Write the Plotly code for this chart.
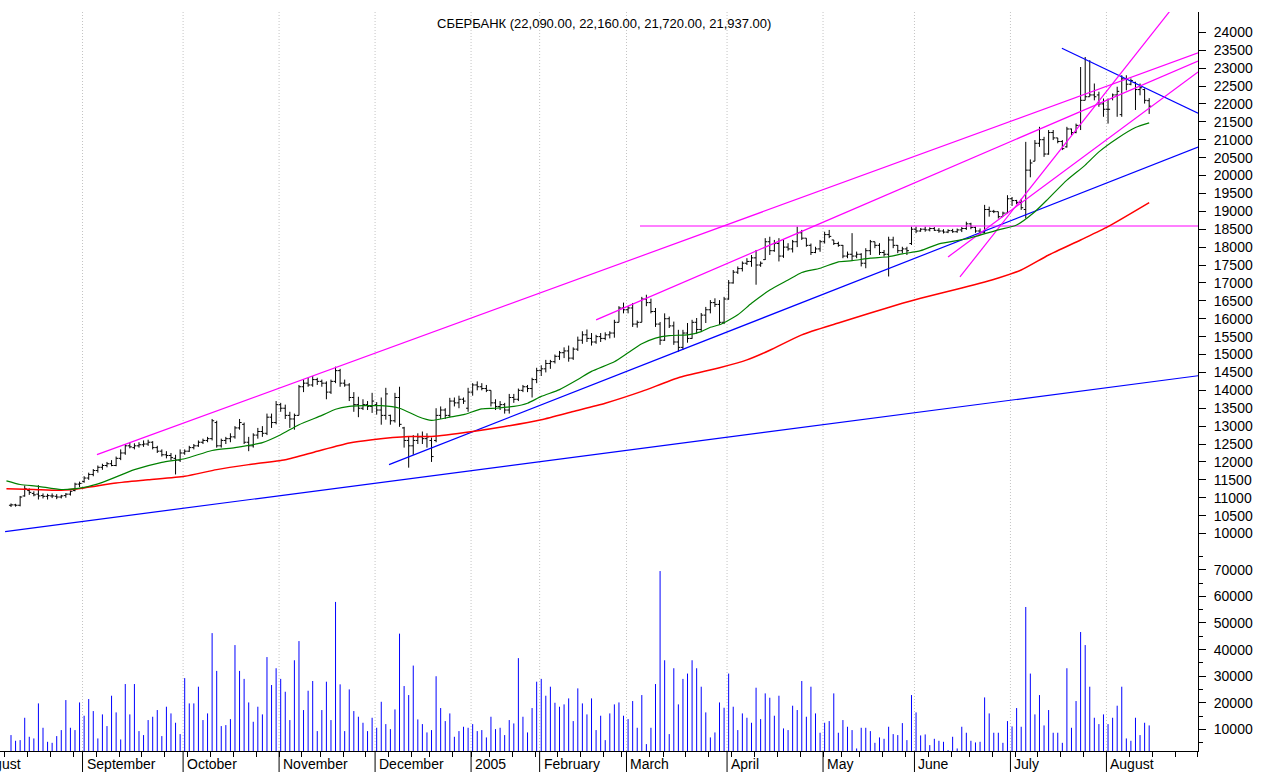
import numpy as np
import pandas as pd
import plotly.graph_objects as go

# ---------------- trading calendar (MICEX, Aug 2004 - Aug 2005) ----------------
holidays = ["2004-11-08", "2004-12-13", "2004-12-31", "2005-01-03", "2005-01-04",
            "2005-01-05", "2005-01-06", "2005-01-07", "2005-01-10", "2005-02-23",
            "2005-03-07", "2005-03-08", "2005-05-02", "2005-05-09", "2005-05-10",
            "2005-06-13"]
extra_sessions = ["2005-03-05", "2005-05-14"]
first_bar_date = "2004-08-10"
month_labels = ["August", "September", "October", "November", "December", "2005",
                "February", "March", "April", "May", "June", "July", "August"]

# ---------------- daily OHLC ----------------
open_ = [10790, 10800, 10790, 11050, 11200, 11120, 11100, 11060, 11040, 11050, 11040, 11020, 11060, 11100, 11200, 11380,
         11450, 11550, 11650, 11760, 11850, 11900, 11950, 11900, 12100, 12250, 12450, 12400, 12450, 12480, 12500, 12550,
         12400, 12300, 12200, 12180, 12100, 12050,
         12250, 12300, 12400, 12450, 12550, 12600, 12650, 13100, 12450, 12600, 12650, 12700, 12950, 13050, 12550, 12450,
         12750, 12850, 12800, 13250, 13100,
         13600, 13500, 13300, 13200, 13300, 14100, 14200, 14150, 14300, 14250, 14200, 13950, 14250, 14550, 14200, 14150,
         13800, 13600, 13500, 13600, 13550,
         13600, 13450, 13300, 13300, 13150, 13800, 12950, 12600, 12450, 12600, 12700, 12650, 12600, 12600, 13300, 13450,
         13300, 13700, 13650, 13750, 13500,
         13950, 14150, 14100, 14050, 14000, 13650, 13550, 13600, 13450, 13800, 13750, 14000, 14100, 14050, 14300,
         14550, 14600, 14750, 14800, 14950, 15050, 15100, 14900, 15150, 15400, 15550, 15450, 15350, 15500, 15450, 15550,
         15600, 15900, 16300,
         16250, 16300, 15850, 15900, 16550, 16450, 16200, 15850, 15400, 16000, 15800, 15350, 15200, 15600, 15450, 15900,
         15700, 16100, 16250, 16450, 16400, 15900,
         16550, 17000, 17300, 17400, 17550, 17600, 17700, 17500, 17650, 18150, 17900, 18100, 17750, 18000, 17950, 18150,
         18400, 18250, 18050, 17850, 17950,
         18150, 18350, 18200, 18100, 18050, 17750, 17800, 17750, 17800, 17550, 17900, 18150, 18050, 17850, 17800, 18200,
         18050, 17900, 17950, 18100,
         18500, 18450, 18500, 18480, 18520, 18470, 18450, 18420, 18460, 18430, 18480, 18520, 18650, 18550, 18450, 18400,
         19050, 19000, 18990, 18850, 18950,
         19350, 19300, 19250, 19050, 20150, 20400, 20900, 21000, 20600, 21200, 21050, 20950, 20800, 21300, 21200, 21400,
         22100, 22200, 22250, 22250, 22000,
         21850, 22150, 22250, 21700, 22700, 22550, 22600, 22400, 22400, 22090]
high = [10840, 10830, 11050, 11340, 11260, 11180, 11350, 11120, 11110, 11120, 11100, 11080, 11130, 11200, 11420, 11450,
        11600, 11700, 11800, 11900, 11950, 12000, 12050, 12150, 12350, 12500, 12550, 12520, 12550, 12600, 12620, 12580,
        12450, 12350, 12300, 12250, 12200, 12350,
        12350, 12450, 12500, 12600, 12650, 12700, 13200, 13150, 12650, 12700, 12800, 13000, 13200, 13100, 12700, 12800,
        12950, 13000, 13350, 13350, 13700,
        13650, 13600, 13400, 13350, 14150, 14300, 14350, 14400, 14350, 14300, 14250, 14300, 14660, 14600, 14300, 14200,
        13950, 13820, 13750, 13700, 13930,
        13670, 13800, 14070, 13320, 13930, 14100, 12980, 12700, 12750, 12800, 12850, 12800, 12680, 13500, 13550, 13500,
        13790, 13800, 13850, 13800, 14070,
        14200, 14250, 14200, 14150, 14000, 13750, 13700, 13650, 13900, 13900, 14050, 14150, 14150, 14350, 14630,
        14700, 14850, 14850, 15000, 15100, 15200, 15250, 15200, 15500, 15650, 15700, 15600, 15550, 15600, 15620, 15650,
        15970, 16350, 16450,
        16350, 16440, 15950, 16610, 16670, 16560, 16300, 15910, 16150, 16060, 15920, 15690, 15690, 15880, 15970, 16020,
        16160, 16330, 16520, 16570, 16520, 16610,
        17080, 17360, 17460, 17600, 17690, 17780, 17920, 17600, 18250, 18290, 18200, 18250, 18200, 18110, 18200, 18570,
        18480, 18250, 18100, 18010, 18200,
        18430, 18480, 18200, 18150, 18060, 17875, 18390, 17875, 17830, 17970, 18200, 18150, 18110, 17920, 18290, 18290,
        18060, 18010, 18010, 18570,
        18570, 18530, 18570, 18550, 18560, 18530, 18500, 18500, 18510, 18520, 18560, 18710, 18680, 18570, 18520, 19180,
        19130, 19040, 18990, 18990, 19450,
        19400, 19320, 19350, 20940, 20450, 20990, 21360, 21080, 21270, 21270, 21050, 20990, 21360, 21310, 21450, 23030,
        23310, 23220, 22570, 22340, 22150,
        22150, 22290, 22480, 22800, 22800, 22710, 22620, 22570, 22430, 22160]
low = [10740, 10750, 10760, 11030, 11080, 11040, 10950, 10980, 10950, 10990, 10960, 10980, 11000, 11060, 11180, 11300,
       11420, 11500, 11600, 11700, 11780, 11850, 11880, 11880, 12050, 12200, 12380, 12350, 12400, 12420, 12450, 12350,
       12250, 12150, 12100, 12050, 11650, 12000,
       12200, 12280, 12350, 12420, 12500, 12550, 12600, 12400, 12400, 12500, 12550, 12650, 12900, 12500, 12300, 12400,
       12650, 12700, 12750, 12950, 13050,
       13400, 13200, 12950, 12900, 13300, 13950, 14100, 14100, 14150, 14100, 13750, 13900, 14200, 14100, 14100, 13700,
       13400, 13250, 13450, 13450, 13370,
       13320, 13040, 13180, 13040, 13100, 12980, 12400, 11840, 12200, 12500, 12500, 12400, 12000, 12550, 13200, 13200,
       13250, 13550, 13500, 13620, 13400,
       13850, 14000, 14000, 13950, 13550, 13450, 13450, 13350, 13350, 13650, 13700, 13950, 13950, 13800, 14200,
       14400, 14500, 14600, 14750, 14850, 14900, 14800, 14850, 15100, 15300, 15350, 15250, 15300, 15350, 15400, 15450,
       15470, 15900, 16150,
       16150, 15770, 15750, 15900, 16350, 16150, 15770, 15270, 15380, 15740, 15270, 15080, 15130, 15330, 15440, 15580,
       15650, 15880, 16150, 16330, 15830, 15850,
       16530, 16980, 17250, 17320, 17500, 17450, 16950, 17450, 17640, 17780, 17870, 17600, 17700, 17900, 17850, 18000,
       18200, 18010, 17780, 17830, 17870,
       18100, 18250, 18060, 18010, 17690, 17690, 17640, 17690, 17460, 17410, 17780, 17970, 17780, 17735, 17180, 17970,
       17830, 17830, 17780, 18060,
       18390, 18430, 18430, 18440, 18450, 18400, 18380, 18390, 18400, 18400, 18420, 18480, 18500, 18400, 18340, 18390,
       18850, 18950, 18800, 18850, 18950,
       19150, 19200, 19040, 18800, 19950, 20400, 20800, 20520, 20580, 20990, 20900, 20710, 20780, 21130, 21180, 21270,
       22100, 22200, 22100, 21920, 21640,
       21450, 22100, 21640, 21640, 22380, 22520, 21830, 22240, 22010, 21720]
close_ = [10800, 10790, 11020, 11250, 11150, 11080, 11050, 11040, 11060, 11050, 11020, 11050, 11100, 11180, 11380, 11400,
          11550, 11650, 11760, 11850, 11900, 11950, 11900, 12100, 12250, 12450, 12420, 12450, 12480, 12500, 12550, 12400,
          12300, 12200, 12180, 12120, 12050, 12250,
          12300, 12400, 12450, 12550, 12600, 12650, 13150, 12450, 12600, 12650, 12700, 12950, 13100, 12550, 12450, 12750,
          12850, 12800, 13250, 13100, 13600,
          13500, 13300, 13200, 13300, 14100, 14200, 14150, 14300, 14250, 14200, 13950, 14250, 14550, 14200, 14150, 13800,
          13600, 13500, 13600, 13550, 13700,
          13450, 13300, 13900, 13150, 13800, 13050, 12600, 12450, 12600, 12700, 12650, 12700, 12150, 13300, 13450, 13300,
          13700, 13650, 13750, 13700, 13950,
          14150, 14100, 14050, 14000, 13650, 13550, 13600, 13450, 13800, 13750, 14000, 14100, 14050, 14300, 14550,
          14600, 14750, 14800, 14950, 15050, 15100, 14900, 15150, 15400, 15550, 15450, 15350, 15500, 15450, 15550, 15600,
          15900, 16300, 16250,
          16300, 15850, 15900, 16550, 16450, 16200, 15850, 15400, 16000, 15800, 15350, 15200, 15600, 15450, 15900, 15700,
          16100, 16250, 16450, 16400, 15900, 16550,
          17000, 17300, 17400, 17550, 17600, 17700, 17500, 17550, 18150, 17900, 18100, 17750, 18000, 17950, 18150, 18400,
          18250, 18050, 17850, 17950, 18150,
          18350, 18300, 18100, 18050, 17750, 17800, 17750, 17800, 17550, 17900, 18150, 18050, 17850, 17800, 18200, 18050,
          17900, 17950, 17900, 18500,
          18450, 18500, 18480, 18520, 18470, 18450, 18420, 18460, 18430, 18480, 18520, 18650, 18550, 18450, 18400, 19050,
          19000, 18990, 18850, 18950, 19350,
          19300, 19250, 19100, 20150, 20350, 20900, 21000, 20600, 21200, 21050, 20950, 20750, 21300, 21200, 21400, 22100,
          22200, 22250, 22200, 22000, 21850,
          21850, 22250, 22350, 22700, 22550, 22650, 22400, 22450, 22100, 21937]

# ---------------- daily volume ----------------
volume = [7900, 5760, 6010, 14400, 7270, 6640, 19800, 10650, 5380, 5000, 7520, 9780, 21050, 10650, 9780, 20160,
          15170, 21430, 16920, 6640, 15670, 11280, 22680, 16420, 6260, 27070, 15670, 27070, 9400, 7900, 13540, 14790,
          17300, 7520, 18550, 16040, 12530, 8270,
          29300, 19800, 19800, 26070, 13540, 16040, 46200, 32000, 11280, 11650, 13910, 41700, 32000, 29000, 20160, 12900,
          18550, 15670, 37200, 26700, 33000,
          29000, 24180, 13540, 36000, 43200, 17300, 24560, 28200, 9400, 17300, 27950, 13540, 57900, 26950, 9400, 25060,
          16920, 14790, 12530, 9400, 14410,
          10650, 20410, 12030, 10150, 17540, 46000, 26320, 22930, 34000, 13790, 12030, 8900, 9780, 30000, 18050, 13160,
          16040, 7270, 9400, 11030, 10650,
          12030, 9400, 9780, 7020, 14790, 10150, 10650, 7900, 13540, 12280, 36800, 14790, 8900, 18050, 27950,
          29000, 22680, 26070, 20040, 18550, 19430, 21680, 13160, 25440, 19800, 15670, 21680, 9780, 15170, 6010, 16040,
          19430, 20160, 15170,
          13910, 20680, 10650, 22930, 4510, 10650, 27070, 69500, 36000, 8270, 33000, 19430, 29000, 31000, 36000, 33000,
          26070, 16420, 7020, 8900, 20160, 18170,
          31000, 18550, 9780, 16040, 14410, 12530, 25690, 13910, 23560, 21930, 15170, 22680, 10400, 9780, 18930, 17300,
          28200, 14790, 26070, 16040, 8780,
          12530, 13160, 23560, 8780, 13540, 11030, 9780, 2880, 10650, 10650, 9400, 5000, 7020, 6510, 11030, 8270,
          7900, 12400, 6010, 22930,
          16420, 7770, 8140, 4130, 6510, 5760, 5380, 2300, 7270, 2880, 11030, 8780, 5760, 5130, 5380, 22050,
          16040, 8780, 8780, 5000, 13160,
          11150, 18050, 11030, 56000, 31000, 15670, 22930, 11530, 17300, 8780, 8780, 5000, 33000, 10650, 20680, 46600,
          41700, 26070, 14410, 12030, 15670,
          12030, 14410, 18930, 26070, 6640, 5760, 14410, 7900, 12530, 11530]

# ---------------- moving averages (read at bar indices) ----------------
ma_fast_idx = [-1, 2, 6, 11, 16, 20, 27, 33, 38, 44, 49, 55, 59, 63, 68, 71, 74, 77, 81, 85, 89, 92, 96, 99,
               103, 106, 110, 113, 116, 120, 124, 127, 132, 135, 138, 141, 144, 148, 151, 153, 155, 159, 162, 166,
               170, 173, 177, 181, 184, 188, 192, 195, 199, 203, 209, 216, 220, 224, 227, 231, 235, 238, 242, 246, 249]
ma_fast_val = [11470, 11370, 11320, 11230, 11290, 11430, 11785, 11990, 12090, 12320, 12400, 12540, 12760, 13040,
               13300, 13470, 13550, 13570, 13570, 13500, 13270, 13160, 13250, 13320, 13480, 13500, 13550, 13640,
               13830, 14020, 14300, 14530, 14800, 15050, 15300, 15460, 15530, 15550, 15640, 15760, 15830, 16110,
               16430, 16800, 17080, 17290, 17410, 17590, 17620, 17690, 17730, 17810, 17900, 18090, 18230, 18480,
               18620, 18990, 19360, 19870, 20290, 20660, 21035, 21340, 21470]
ma_slow_idx = [-1, 5, 11, 16, 23, 30, 38, 45, 52, 60, 67, 74, 79, 87, 92, 101, 108, 116, 123, 130, 138, 146,
               155, 161, 166, 173, 181, 188, 195, 199, 208, 216, 221, 227, 234, 240, 249]
ma_slow_val = [11250, 11230, 11210, 11275, 11410, 11500, 11600, 11785, 11925, 12060, 12300, 12530, 12620, 12710,
               12710, 12850, 12990, 13180, 13410, 13640, 13970, 14350, 14630, 14850, 15120, 15550, 15880, 16160,
               16430, 16570, 16860, 17140, 17360, 17780, 18200, 18570, 19240]

# ---------------- hand-drawn trend lines (bar index, price) ----------------
blue_x0 = [-1.3, 82.7, 229.9]
blue_y0 = [10056, 11924, 23555]
blue_x1 = [259.7, 259.7, 259.7]
blue_y1 = [14407, 20793, 21742]
magenta_x0 = [18.8, 128.0, 205.0, 207.6, 137.6]
magenta_y0 = [12203, 15968, 17726, 17168, 18590]
magenta_x1 = [259.7, 259.7, 259.7, 253.5, 259.7]
magenta_y1 = [23426, 23200, 22894, 24587, 18590]

price_ticks = list(range(10000, 24001, 500))
volume_ticks = list(range(10000, 70001, 10000))

# ---------------- derived positions ----------------
cal = pd.bdate_range("2004-08-02", "2005-08-31")
cal = cal.difference(pd.DatetimeIndex(holidays)).union(pd.DatetimeIndex(extra_sessions))
offset = cal.get_loc(pd.Timestamp(first_bar_date))
cal_idx = np.arange(len(cal)) - offset
n = len(close_)
xs = np.arange(n)

X_RANGE = [-2.406, 259.68]
GAP = 0.35
month_pos, week_pos = [], []
for k in range(len(cal)):
    if k == 0 or cal[k].month != cal[k - 1].month:
        month_pos.append(cal_idx[k] - GAP)
    if k == 0 or cal[k].isocalendar()[:2] != cal[k - 1].isocalendar()[:2]:
        week_pos.append(cal_idx[k] - GAP)
week_pos = [w for w in week_pos if X_RANGE[0] < w <= X_RANGE[1] + 0.1]

FONT = "Arial, Liberation Sans, sans-serif"
BLUE = "#0000ff"
MAGENTA = "#ff00ff"

fig = go.Figure()

for x0, y0, x1, y1 in zip(blue_x0, blue_y0, blue_x1, blue_y1):
    fig.add_trace(go.Scatter(x=[x0, x1], y=[y0, y1], mode="lines",
                             line=dict(color=BLUE, width=1.2), hoverinfo="skip", yaxis="y"))
for x0, y0, x1, y1 in zip(magenta_x0, magenta_y0, magenta_x1, magenta_y1):
    fig.add_trace(go.Scatter(x=[x0, x1], y=[y0, y1], mode="lines",
                             line=dict(color=MAGENTA, width=1.2), hoverinfo="skip", yaxis="y"))

fig.add_trace(go.Scatter(x=ma_slow_idx, y=ma_slow_val, mode="lines",
                         line=dict(color="#ff0000", width=1.5, shape="spline", smoothing=0.6),
                         hoverinfo="skip", yaxis="y"))
fig.add_trace(go.Scatter(x=ma_fast_idx, y=ma_fast_val, mode="lines",
                         line=dict(color="#008000", width=1.2, shape="spline", smoothing=0.6),
                         hoverinfo="skip", yaxis="y"))

fig.add_trace(go.Ohlc(x=xs, open=open_, high=high, low=low, close=close_,
                      increasing=dict(line=dict(color="black", width=1)),
                      decreasing=dict(line=dict(color="black", width=1)),
                      tickwidth=0.45, hoverinfo="skip", yaxis="y"))

# volume as thin vertical sticks
vx, vy = [], []
for i, v in zip(xs, volume):
    vx += [i, i, None]
    vy += [0, v, None]
fig.add_trace(go.Scatter(x=vx, y=vy, mode="lines", line=dict(color=BLUE, width=1),
                         hoverinfo="skip", yaxis="y2"))

# month grid lines & long ticks under axis
shapes = []
for p in month_pos:
    if X_RANGE[0] < p < X_RANGE[1]:
        shapes.append(dict(type="line", xref="x", yref="paper", x0=p, x1=p, y0=0, y1=1,
                           line=dict(color="#c4c4c4", width=1, dash="1px,2px"), layer="below"))
        shapes.append(dict(type="line", xref="x", yref="paper", x0=p, x1=p, y0=0, y1=-0.03,
                           line=dict(color="black", width=1)))

annotations = []
for p, lab in zip(month_pos, month_labels):
    xp = (p - X_RANGE[0]) / (X_RANGE[1] - X_RANGE[0])
    shift = 2 if p > X_RANGE[0] else -7   # label of a month that began before the window
    annotations.append(dict(text=lab, xref="paper", yref="paper", x=xp, y=-0.0176,
                            xanchor="left", yanchor="middle", xshift=shift, showarrow=False,
                            font=dict(family=FONT, size=14, color="black")))
title = "СБЕРБАНК ({:,.2f}, {:,.2f}, {:,.2f}, {:,.2f})".format(open_[-1], high[-1], low[-1], close_[-1])
annotations.append(dict(text=title, xref="paper", yref="paper", x=0.5042, y=0.9838,
                        xanchor="center", yanchor="middle", showarrow=False,
                        font=dict(family=FONT, size=13, color="black")))

fig.update_layout(
    width=1261, height=772,
    margin=dict(l=0, r=63, t=12, b=21),
    paper_bgcolor="white", plot_bgcolor="white",
    showlegend=False,
    shapes=shapes, annotations=annotations,
    xaxis=dict(range=X_RANGE, anchor="y2", showgrid=False, zeroline=False,
               showline=True, linecolor="black", linewidth=1,
               tickmode="array", tickvals=week_pos, ticks="outside", ticklen=5,
               tickcolor="black", showticklabels=False, rangeslider=dict(visible=False)),
    yaxis=dict(domain=[0.2652, 1], range=[9400, 24567], side="right", anchor="x",
               showgrid=False, zeroline=False, showline=True, linecolor="black", linewidth=1,
               tickmode="array", tickvals=price_ticks, ticktext=[str(t) for t in price_ticks],
               ticks="outside", ticklen=7, tickcolor="black", ticklabelstandoff=5,
               tickfont=dict(family=FONT, size=14, color="black")),
    yaxis2=dict(domain=[0, 0.2652], range=[1926, 75520], side="right", anchor="x",
                showgrid=False, zeroline=False, showline=True, linecolor="black", linewidth=1,
                tickmode="array", tickvals=volume_ticks, ticktext=[str(t) for t in volume_ticks],
                ticks="outside", ticklen=7, tickcolor="black", ticklabelstandoff=5,
                minor=dict(dtick=5000, tick0=0, ticks="outside", ticklen=4, tickcolor="black"),
                tickfont=dict(family=FONT, size=14, color="black")),
)

fig.write_html("out.html", config={"displayModeBar": False},
               post_script="document.body.style.margin='0';document.body.style.overflow='hidden';")
